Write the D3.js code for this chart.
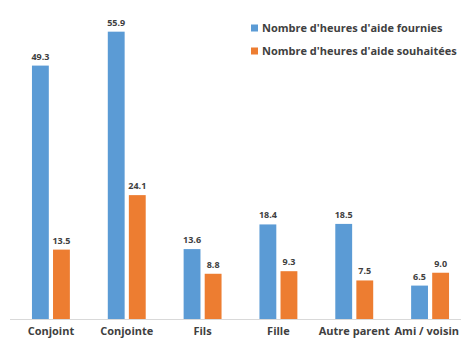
<!DOCTYPE html>
<html>
<head>
<meta charset="utf-8">
<script src="https://cdn.jsdelivr.net/npm/d3@7"></script>
<style>
  body { margin: 0; background: #fff; }
  svg { display: block; font-family: "Open Sans", "Noto Sans", sans-serif; }
</style>
</head>
<body>
<svg width="461" height="341"></svg>
<script>
var categories = ["Conjoint", "Conjointe", "Fils", "Fille", "Autre parent", "Ami / voisin"];
var seriesNames = ["Nombre d'heures d'aide fournies", "Nombre d'heures d'aide souhaitées"];
var fournies = [49.3, 55.9, 13.6, 18.4, 18.5, 6.5];
var souhaitees = [13.5, 24.1, 8.8, 9.3, 7.5, 9.0];
var colors = ["#5B9BD5", "#ED7D31"];

var svg = d3.select("svg");
var baseline = 319;

var xScale = d3.scaleBand().domain(categories).range([13, 468]).paddingInner(0).paddingOuter(0);
var xSub = d3.scaleBand().domain([0, 1]).range([0, xScale.bandwidth()]).paddingInner(0.2).paddingOuter(0.9);
var yScale = d3.scaleLinear().domain([0, 60]).range([baseline, baseline - 60 * 5.14]);

var data = categories.map(function(c, i) {
    return { cat: c, values: [fournies[i], souhaitees[i]] };
});

// axis line
svg.append("line")
    .attr("x1", 10).attr("x2", 461)
    .attr("y1", baseline + 0.5).attr("y2", baseline + 0.5)
    .attr("stroke", "#d9d9d9");

var groups = svg.selectAll(".grp")
    .data(data)
    .enter().append("g")
    .attr("class", "grp")
    .attr("transform", function(d) { return "translate(" + xScale(d.cat) + ",0)"; });

groups.selectAll("rect")
    .data(function(d) { return d.values; })
    .enter().append("rect")
    .attr("x", function(d, i) { return xSub(i); })
    .attr("y", function(d) { return yScale(d); })
    .attr("width", xSub.bandwidth())
    .attr("height", function(d) { return baseline - yScale(d); })
    .style("fill", function(d, i) { return colors[i]; });

groups.selectAll("text.val")
    .data(function(d) { return d.values; })
    .enter().append("text")
    .attr("class", "val")
    .attr("x", function(d, i) { return xSub(i) + xSub.bandwidth() / 2; })
    .attr("y", function(d) { return yScale(d) - 6; })
    .attr("text-anchor", "middle")
    .style("font-size", "9px")
    .style("font-weight", "bold")
    .style("fill", "#404040")
    .text(function(d) { return d.toFixed(1); });

// category labels
svg.selectAll("text.cat")
    .data(categories)
    .enter().append("text")
    .attr("class", "cat")
    .attr("x", function(d) { return xScale(d) + xScale.bandwidth() / 2; })
    .attr("y", 335)
    .attr("text-anchor", "middle")
    .style("font-size", "11px")
    .style("font-weight", "bold")
    .style("fill", "#404040")
    .text(function(d) { return d; })
    .each(function() {
        // keep the last label inside the window
        var b = this.getBBox();
        if (b.x + b.width > 459) {
            d3.select(this).attr("x", +d3.select(this).attr("x") - (b.x + b.width - 459));
        }
    });

// legend
var legend = svg.selectAll(".leg")
    .data(seriesNames)
    .enter().append("g")
    .attr("class", "leg")
    .attr("transform", function(d, i) { return "translate(251," + (28 + i * 23) + ")"; });

legend.append("rect")
    .attr("x", 0).attr("y", -3.5)
    .attr("width", 7).attr("height", 7)
    .style("fill", function(d, i) { return colors[i]; });

legend.append("text")
    .attr("x", 11).attr("y", 4)
    .style("font-size", "11px")
    .style("font-weight", "bold")
    .style("fill", "#404040")
    .text(function(d) { return d; });
</script>
</body>
</html>
